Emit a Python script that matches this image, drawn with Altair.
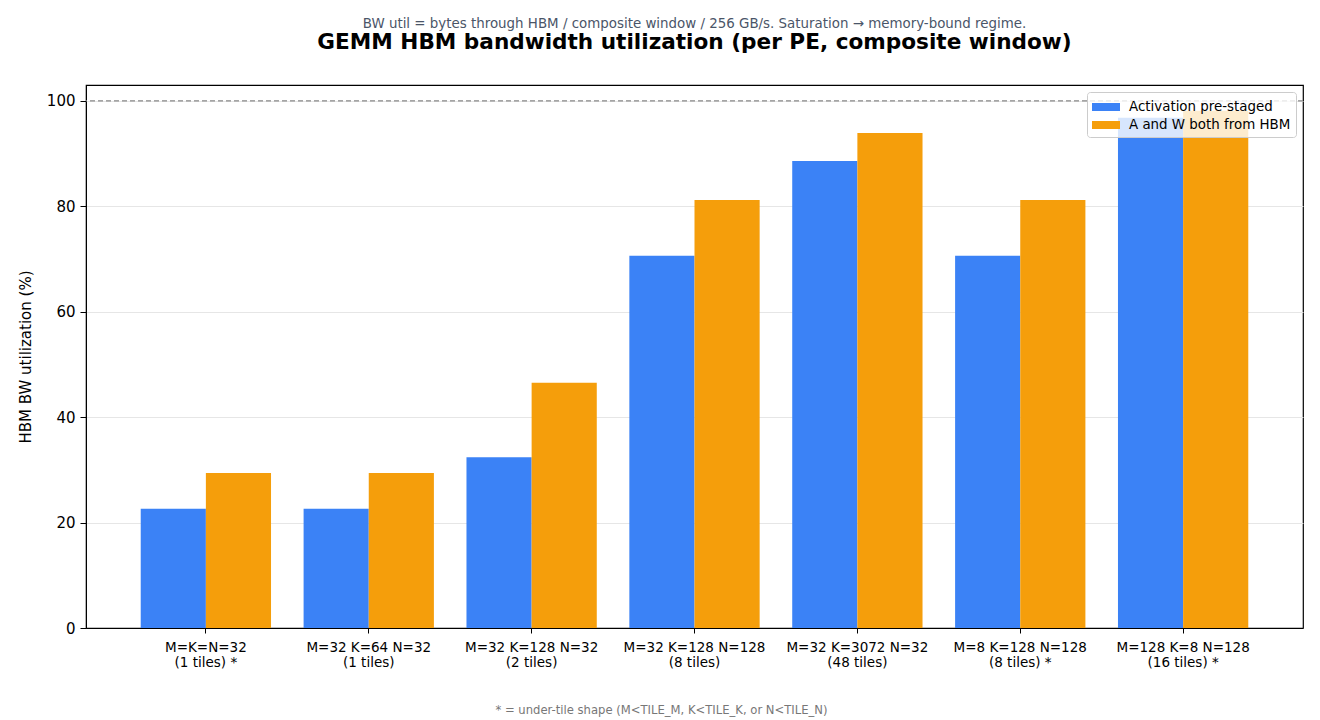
import altair as alt
import pandas as pd

shapes = [
    "M=K=N=32|(1 tiles) *",
    "M=32 K=64 N=32|(1 tiles)",
    "M=32 K=128 N=32|(2 tiles)",
    "M=32 K=128 N=128|(8 tiles)",
    "M=32 K=3072 N=32|(48 tiles)",
    "M=8 K=128 N=128|(8 tiles) *",
    "M=128 K=8 N=128|(16 tiles) *",
]
series = ["Activation pre-staged", "A and W both from HBM"]
prestaged = [22.6, 22.6, 32.4, 70.6, 88.6, 70.6, 96.8]
both_hbm = [29.4, 29.4, 46.5, 81.2, 93.9, 81.2, 98.1]
colors = ["#3b82f6", "#f59e0b"]

rows = []
for s, p, b in zip(shapes, prestaged, both_hbm):
    rows.append({"shape": s, "series": series[0], "util": p})
    rows.append({"shape": s, "series": series[1], "util": b})
df = pd.DataFrame(rows)

FONT = "DejaVu Sans"

bars = alt.Chart(df).mark_bar().encode(
    x=alt.X(
        "shape:N",
        sort=shapes,
        scale=alt.Scale(paddingInner=0.2, paddingOuter=0.336),
        axis=alt.Axis(
            title="* = under-tile shape (M<TILE_M, K<TILE_K, or N<TILE_N)",
            titleFont=FONT,
            titleFontSize=11.6,
            titleFontWeight="normal",
            titleColor="#777777",
            titlePadding=36,
            titleX=575,
            labelExpr="split(datum.label, '|')",
            labelAngle=0,
            labelFont=FONT,
            labelFontSize=13.5,
            labelColor="black",
            labelLineHeight=15,
            labelPadding=7,
            tickColor="black",
            tickSize=5,
            domainColor="black",
            grid=False,
        ),
    ),
    xOffset=alt.XOffset("series:N", sort=series, scale=alt.Scale(paddingInner=0, paddingOuter=0)),
    y=alt.Y(
        "util:Q",
        scale=alt.Scale(domain=[0, 103], nice=False),
        axis=alt.Axis(
            title="HBM BW utilization (%)",
            titleFont=FONT,
            titleFontSize=15,
            titleFontWeight="normal",
            titleColor="black",
            titlePadding=13,
            values=[0, 20, 40, 60, 80, 100],
            labelFont=FONT,
            labelFontSize=15,
            labelColor="black",
            labelPadding=5,
            tickColor="black",
            tickSize=6,
            domainColor="black",
            gridColor="#e6e6e6",
        ),
    ),
    color=alt.Color(
        "series:N",
        sort=series,
        scale=alt.Scale(domain=series, range=colors),
        legend=alt.Legend(
            title=None,
            orient="top-right",
            offset=7,
            labelFont=FONT,
            labelFontSize=13.4,
            labelColor="black",
            labelOffset=17,
            labelLimit=400,
            symbolType="M-1,-0.4H1.8V0.4H-1Z",
            symbolSize=400,
            symbolStrokeWidth=0,
            symbolOpacity=1,
            rowPadding=1,
            padding=5,
            fillColor="rgba(255,255,255,0.8)",
            strokeColor="#cccccc",
            cornerRadius=3,
        ),
    ),
)

limit_df = pd.DataFrame({"limit": [100]})
rule = alt.Chart(limit_df).mark_rule(color="#888888", strokeDash=[5, 3], strokeWidth=1.3).encode(
    y="limit:Q"
)

chart = alt.layer(rule, bars).properties(
    width=1217,
    height=543,
    padding={"left": 10, "top": 9, "right": 5, "bottom": 5},
    title=alt.TitleParams(
        text="BW util = bytes through HBM / composite window / 256 GB/s. Saturation → memory-bound regime.",
        subtitle="GEMM HBM bandwidth utilization (per PE, composite window)",
        font=FONT,
        fontSize=13.4,
        fontWeight="normal",
        color="#4a5568",
        subtitleFont=FONT,
        subtitleFontSize=21.6,
        subtitleFontWeight="bold",
        subtitleColor="black",
        subtitlePadding=2,
        anchor="middle",
        offset=31,
    ),
).configure_view(
    stroke="black", strokeWidth=1.2
).configure_axis(
    labelFlush=False
)

chart.save("out.html", embed_options={"renderer": "svg", "actions": False})
